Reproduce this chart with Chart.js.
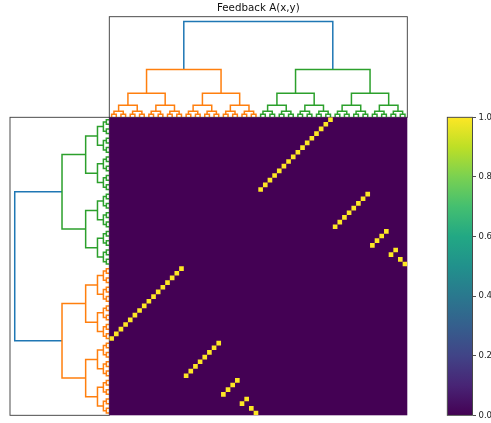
<!DOCTYPE html>
<html>
<head>
<meta charset="utf-8">
<script src="https://cdn.jsdelivr.net/npm/chart.js@4/dist/chart.umd.min.js"></script>
<style>
  body { margin: 0; background: #fff; }
  #wrap { position: relative; width: 491px; height: 423px; }
  #wrap canvas { position: absolute; left: 0; top: 0; }
</style>
</head>
<body>
<div id="wrap">
  <canvas id="leftTree" width="491" height="423"></canvas>
  <canvas id="topTree" width="491" height="423"></canvas>
  <canvas id="heat" width="491" height="423"></canvas>
  <canvas id="cbar" width="491" height="423"></canvas>
</div>
<script>
// which column holds the 1 in each row (rows top to bottom, in clustered order)
const rowToCol = [
  47, 46, 45, 44, 43, 42, 41, 40, 39, 38, 37, 36, 35, 34, 33, 32,
  55, 54, 53, 52, 51, 50, 49, 48,
  59, 58, 57, 56,
  61, 60,
  62,
  63,
  15, 14, 13, 12, 11, 10, 9, 8, 7, 6, 5, 4, 3, 2, 1, 0,
  23, 22, 21, 20, 19, 18, 17, 16,
  27, 26, 25, 24,
  29, 28,
  30,
  31
];
// link heights of the dendrograms, root first, leaf pairs last
const linkHeights = [1.0, 0.5, 0.25, 0.125, 0.0625, 0.03125];
const colClusterColors = ['#ff7f0e', '#2ca02c'];  // left half, right half
const rowClusterColors = ['#2ca02c', '#ff7f0e'];  // top half, bottom half
const aboveColor = '#1f77b4';
const cbarTicks = [0, 0.2, 0.4, 0.6, 0.8, 1.0];
const viridisStops = ['#440154', '#482475', '#414487', '#355f8d', '#2a788e', '#21918c',
                      '#22a884', '#44bf70', '#7ad151', '#bddf26', '#fde725'];

const N = rowToCol.length;
const colToRow = new Array(N);
rowToCol.forEach((c, r) => { colToRow[c] = r; });

// box positions (px)
const W = 491, H = 423;
const HX0 = 109.3, HX1 = 407.3, HY0 = 117.3, HY1 = 415.3;

const framePlugin = {
  id: 'frame',
  afterDraw(chart) {
    const { ctx, chartArea: a } = chart;
    ctx.save();
    ctx.strokeStyle = '#3a3a3a';
    ctx.lineWidth = 0.9;
    ctx.strokeRect(a.left, a.top, a.right - a.left, a.bottom - a.top);
    ctx.restore();
  }
};

// scipy-style link coordinates: leaves at 5, 15, 25, ...
function buildLinks(colors) {
  const links = [];
  function node(start, count, level) {
    if (count === 1) return { pos: 10 * start + 5, h: 0 };
    const half = count / 2;
    const l = node(start, half, level + 1);
    const r = node(start + half, half, level + 1);
    const h = linkHeights[level];
    const color = level === 0 ? aboveColor : colors[Math.floor(start / (N / 2))];
    links.push({ pts: [[l.pos, l.h], [l.pos, h], [r.pos, h], [r.pos, r.h]], color });
    return { pos: (l.pos + r.pos) / 2, h };
  }
  node(0, N, 0);
  return links;
}

function treeDatasets(links, horizontal) {
  return links.map(k => ({
    data: k.pts.map(([p, h]) => horizontal ? { x: h, y: p } : { x: p, y: h }),
    borderColor: k.color,
    borderWidth: 1.5,
    pointRadius: 0,
    showLine: true,
    clip: false,
    borderCapStyle: 'butt',
    borderJoinStyle: 'miter'
  }));
}

const common = {
  responsive: false,
  animation: false,
  events: [],
  plugins: { legend: { display: false }, tooltip: { enabled: false } }
};

// top dendrogram (columns)
new Chart(document.getElementById('topTree'), {
  type: 'scatter',
  data: { datasets: treeDatasets(buildLinks(colClusterColors), false) },
  options: {
    ...common,
    layout: { padding: { left: HX0, right: W - HX1, top: 2, bottom: H - HY0 } },
    plugins: {
      ...common.plugins,
      title: {
        display: true,
        text: 'Feedback A(x,y)',
        color: '#111',
        font: { family: 'DejaVu Sans', size: 10.3, weight: 'normal', lineHeight: 1.2 },
        padding: { top: 0, bottom: 2.34 }
      }
    },
    scales: {
      x: { type: 'linear', display: false, min: 0, max: N * 10 },
      y: { type: 'linear', display: false, min: 0, max: 1.05 }
    }
  },
  plugins: [framePlugin]
});

// left dendrogram (rows)
new Chart(document.getElementById('leftTree'), {
  type: 'scatter',
  data: { datasets: treeDatasets(buildLinks(rowClusterColors), true) },
  options: {
    ...common,
    layout: { padding: { left: 10, right: W - HX0, top: HY0, bottom: H - HY1 } },
    scales: {
      x: { type: 'linear', display: false, min: 0, max: 1.05, reverse: true },
      y: { type: 'linear', display: false, min: 0, max: N * 10, reverse: true }
    }
  },
  plugins: [framePlugin]
});

// heatmap: one floating bar per column covering the row that holds the 1
const zeroFill = {
  id: 'zeroFill',
  beforeDatasetsDraw(chart) {
    const { ctx, chartArea: a } = chart;
    ctx.save();
    ctx.fillStyle = viridisStops[0];
    ctx.fillRect(a.left, a.top, a.right - a.left, a.bottom - a.top);
    ctx.restore();
  }
};

new Chart(document.getElementById('heat'), {
  type: 'bar',
  data: {
    labels: colToRow.map((_, c) => c),
    datasets: [{
      data: colToRow.map(r => [r, r + 1]),
      backgroundColor: viridisStops[viridisStops.length - 1],
      borderWidth: 0,
      inflateAmount: 0,
      barPercentage: 1,
      categoryPercentage: 1
    }]
  },
  options: {
    ...common,
    layout: { padding: { left: HX0, right: W - HX1, top: HY0, bottom: H - HY1 } },
    scales: {
      x: { display: false },
      y: { type: 'linear', display: false, min: 0, max: N, reverse: true }
    }
  },
  plugins: [zeroFill]
});

// colorbar
new Chart(document.getElementById('cbar'), {
  type: 'bar',
  data: {
    labels: [''],
    datasets: [{
      data: [[cbarTicks[0], cbarTicks[cbarTicks.length - 1]]],
      backgroundColor(ctx) {
        const a = ctx.chart.chartArea;
        if (!a) return viridisStops[0];
        const g = ctx.chart.ctx.createLinearGradient(0, a.bottom, 0, a.top);
        viridisStops.forEach((c, i) => g.addColorStop(i / (viridisStops.length - 1), c));
        return g;
      },
      borderWidth: 0,
      inflateAmount: 0,
      barPercentage: 1,
      categoryPercentage: 1
    }]
  },
  options: {
    ...common,
    layout: { padding: { left: 447.3, right: 0, top: HY0, bottom: H - HY1 } },
    scales: {
      x: { display: false },
      y: {
        type: 'linear',
        position: 'right',
        min: 0,
        max: 1,
        afterFit(scale) { scale.width = W - 472.5; },
        afterBuildTicks(scale) { scale.ticks = cbarTicks.map(v => ({ value: v })); },
        ticks: {
          callback: v => v.toFixed(1),
          color: '#222',
          padding: 2.5,
          font: { family: 'DejaVu Sans', size: 8.5 }
        },
        grid: { drawOnChartArea: false, drawTicks: true, tickLength: 3.5, color: '#222', lineWidth: 0.8 },
        border: { display: false }
      }
    }
  },
  plugins: [framePlugin]
});
</script>
</body>
</html>
